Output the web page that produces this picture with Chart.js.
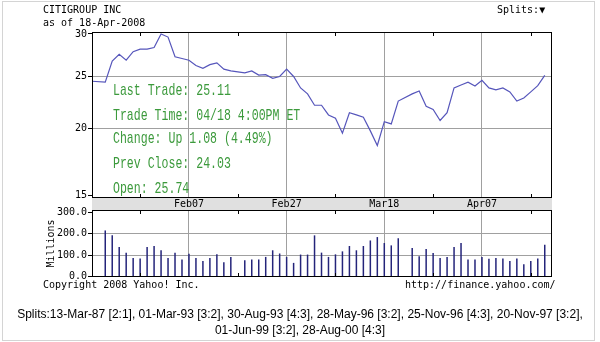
<!DOCTYPE html>
<html>
<head>
<meta charset="utf-8">
<script src="https://cdn.jsdelivr.net/npm/chart.js@4/dist/chart.umd.min.js"></script>
<style>
body { margin: 0; background: #fff; }
#wrap { position: relative; width: 600px; height: 342px; overflow: hidden; font-family: "DejaVu Sans Mono", monospace; font-size: 10px; color: #000; }
#border { position: absolute; left: 2px; top: 1px; width: 593px; height: 340px; box-sizing: border-box; border: 1px solid #d4d4d4; }
canvas { position: absolute; left: 0; }
#price { top: 0; }
#volume { top: 200px; }
.t { position: absolute; white-space: pre; line-height: 12px; z-index: 2; }
.info { position: absolute; left: 113px; white-space: pre; font-family: "Liberation Mono", monospace; font-size: 17px; line-height: 17px; color: #3c9a3c; transform: scaleX(0.68); transform-origin: 0 0; z-index: 2; }
#splits { position: absolute; left: 0; top: 306px; width: 600px; text-align: center; font-family: "Liberation Sans", Arial, sans-serif; font-size: 12px; line-height: 16px; z-index: 2; }
</style>
</head>
<body>
<div id="wrap">
  <div id="border"></div>
  <canvas id="price" width="600" height="210"></canvas>
  <canvas id="volume" width="600" height="90"></canvas>
  <div class="t" style="left:43px;top:4px">CITIGROUP INC</div>
  <div class="t" style="left:43px;top:17px">as of 18-Apr-2008</div>
  <div class="t" style="left:497px;top:4px">Splits:▼</div>
  <div class="info" style="top:82px">Last Trade: 25.11</div>
  <div class="info" style="top:107px">Trade Time: 04/18 4:00PM ET</div>
  <div class="info" style="top:130px">Change: Up 1.08 (4.49%)</div>
  <div class="info" style="top:155px">Prev Close: 24.03</div>
  <div class="info" style="top:180px">Open: 25.74</div>
  <div class="t" style="left:43px;top:279px">Copyright 2008 Yahoo! Inc.</div>
  <div class="t" style="left:405px;top:279px">http://finance.yahoo.com/</div>
  <div id="splits">Splits:13-Mar-87 [2:1], 01-Mar-93 [3:2], 30-Aug-93 [4:3], 28-May-96 [3:2], 25-Nov-96 [4:3], 20-Nov-97 [3:2],<br>01-Jun-99 [3:2], 28-Aug-00 [4:3]</div>
</div>
<script>
// trading days shown (Jan 21, Feb 18 and Mar 21 were market holidays)
const dates = [
  '2008-01-18', '2008-01-22', '2008-01-23', '2008-01-24', '2008-01-25',
  '2008-01-28', '2008-01-29', '2008-01-30', '2008-01-31', '2008-02-01',
  '2008-02-04', '2008-02-05', '2008-02-06', '2008-02-07', '2008-02-08',
  '2008-02-11', '2008-02-12', '2008-02-13', '2008-02-14', '2008-02-15',
  '2008-02-19', '2008-02-20', '2008-02-21', '2008-02-22',
  '2008-02-25', '2008-02-26', '2008-02-27', '2008-02-28', '2008-02-29',
  '2008-03-03', '2008-03-04', '2008-03-05', '2008-03-06', '2008-03-07',
  '2008-03-10', '2008-03-11', '2008-03-12', '2008-03-13', '2008-03-14',
  '2008-03-17', '2008-03-18', '2008-03-19', '2008-03-20',
  '2008-03-24', '2008-03-25', '2008-03-26', '2008-03-27', '2008-03-28',
  '2008-03-31', '2008-04-01', '2008-04-02', '2008-04-03', '2008-04-04',
  '2008-04-07', '2008-04-08', '2008-04-09', '2008-04-10', '2008-04-11',
  '2008-04-14', '2008-04-15', '2008-04-16', '2008-04-17', '2008-04-18'
];
const closes = [
  24.5, 24.4, 26.7, 27.5, 26.8,
  27.8, 28.1, 28.1, 28.3, 30.0,
  29.6, 27.2, 27.0, 26.8, 26.2,
  25.9, 26.3, 26.5, 25.8, 25.6,
  25.4, 25.6, 25.15, 25.2,
  24.8, 25.0, 25.8, 25.0, 23.8,
  23.2, 22.1, 22.1, 21.2, 20.9,
  19.6, 21.4, 21.2, 21.0, 19.8,
  18.6, 20.6, 20.4, 22.5,
  23.2, 23.5, 22.0, 21.7, 20.7,
  21.4, 23.8, 24.1, 24.4, 24.0,
  24.6, 23.8, 23.6, 23.8, 23.4,
  22.5, 22.8, 23.4, 24.03, 25.11
];
// volume in millions
const volumes = [
  null, 214, 191, 136, 110,
  85, 82, 136, 141, 121,
  85, 110, 78, 105, 85,
  71, 85, 102, 65, 90,
  74, 78, 78, 90,
  121, 106, 90, 62, 101,
  101, 191, 110, 90, 102,
  116, 141, 121, 141, 167,
  183, 155, 144, 178,
  132, 93, 127, 108, 85,
  90, 136, 155, 78, 78,
  90, 81, 85, 82, 71,
  82, 56, 71, 82, 147
];
const tickDates = ['2008-01-29', '2008-02-07', '2008-02-18', '2008-02-27', '2008-03-07', '2008-03-18', '2008-03-27', '2008-04-07', '2008-04-16'];
const tickLabels = ['', 'Feb07', '', 'Feb27', '', 'Mar18', '', 'Apr07', ''];
const priceTicks = [15, 20, 25, 30];
const priceTickLabels = ['15', '20', '25', '30'];
const volumeTicks = [0, 100, 200, 300];
const volumeTickLabels = ['0.0', '100.0', '200.0', '300.0'];

// x axis counts weekdays from Jan 18 (weekends are not drawn)
const start = Date.UTC(2008, 0, 18);
function weekday(s) {
  const p = s.split('-').map(Number);
  const end = Date.UTC(p[0], p[1] - 1, p[2]);
  let t = start, n = 0;
  while (t < end) {
    t += 864e5;
    const w = new Date(t).getUTCDay();
    if (w !== 0 && w !== 6) n++;
  }
  return n;
}
const xs = dates.map(weekday);
const tickXs = tickDates.map(weekday);

const grey = '#a0a0a0';
const none = 'rgba(0,0,0,0)';
Chart.defaults.font.family = '"DejaVu Sans Mono", monospace';
Chart.defaults.font.size = 10;
Chart.defaults.color = '#000';

// black frame round the plot + short inward tick marks
const frame = {
  id: 'frame',
  afterDraw(chart) {
    const { ctx, chartArea: a } = chart;
    const x = chart.scales.x;
    ctx.save();
    ctx.strokeStyle = '#000';
    ctx.lineWidth = 1;
    ctx.strokeRect(a.left + 0.5, a.top + 0.5, a.right - a.left - 1, a.bottom - a.top - 1);
    ctx.beginPath();
    x.ticks.forEach((t, i) => {
      if (tickLabels[i]) return;
      const px = Math.round(x.getPixelForValue(t.value)) + 0.5;
      ctx.moveTo(px, a.top); ctx.lineTo(px, a.top + 4);
      ctx.moveTo(px, a.bottom); ctx.lineTo(px, a.bottom - 4);
    });
    ctx.stroke();
    ctx.restore();
  }
};

const xAxis = (showLabels, h) => ({
  type: 'linear',
  min: 0.1,
  max: 66.04,
  offset: false,
  afterBuildTicks: s => { s.ticks = tickXs.map(v => ({ value: v })); },
  afterFit: s => { s.height = h; },
  backgroundColor: showLabels ? '#e0e0e0' : undefined,
  border: { display: false },
  grid: {
    offset: false,
    drawTicks: false,
    color: c => tickLabels[c.index] ? grey : none
  },
  ticks: {
    display: showLabels,
    autoSkip: false,
    maxRotation: 0,
    padding: 0,
    callback: (v, i) => tickLabels[i]
  }
});

new Chart(document.getElementById('price'), {
  type: 'line',
  data: {
    datasets: [{
      data: xs.map((x, i) => ({ x: x, y: closes[i] })),
      borderColor: '#5656bb',
      borderWidth: 1.2,
      pointRadius: 0,
      tension: 0
    }]
  },
  options: {
    responsive: false,
    animation: false,
    events: [],
    layout: { padding: { top: 32, right: 48, left: 0, bottom: 0 } },
    scales: {
      x: xAxis(true, 12),
      y: {
        type: 'logarithmic',
        min: 14.85,
        max: 30.25,
        afterBuildTicks: s => { s.ticks = priceTicks.map(v => ({ value: v })); },
        afterFit: s => { s.width = 92; },
        border: { display: false },
        grid: {
          tickLength: 4,
          tickColor: '#000',
          color: c => (c.tick && (c.tick.value === 20 || c.tick.value === 25)) ? grey : none
        },
        ticks: {
          padding: 1,
          callback: (v, i) => priceTickLabels[i]
        }
      }
    },
    plugins: { legend: { display: false }, tooltip: { enabled: false } }
  },
  plugins: [frame]
});

new Chart(document.getElementById('volume'), {
  type: 'bar',
  data: {
    datasets: [{
      data: xs.map((x, i) => ({ x: x, y: volumes[i] })),
      backgroundColor: '#24247a',
      barThickness: 1,
      inflateAmount: 0.25
    }]
  },
  options: {
    responsive: false,
    animation: false,
    events: [],
    layout: { padding: { top: 10, right: 48, left: 0, bottom: 0 } },
    scales: {
      x: xAxis(false, 13),
      y: {
        type: 'linear',
        min: -3,
        max: 311,
        afterBuildTicks: s => { s.ticks = volumeTicks.map(v => ({ value: v })); },
        afterFit: s => { s.width = 92; },
        border: { display: false },
        grid: {
          tickLength: 4,
          tickColor: '#000',
          color: c => (c.tick && (c.tick.value === 100 || c.tick.value === 200)) ? grey : none
        },
        ticks: {
          padding: 1,
          callback: (v, i) => volumeTickLabels[i]
        },
        title: {
          display: true,
          text: 'Millions',
          padding: { top: 45, bottom: 0 }
        }
      }
    },
    plugins: { legend: { display: false }, tooltip: { enabled: false } }
  },
  plugins: [frame]
});
</script>
</body>
</html>
